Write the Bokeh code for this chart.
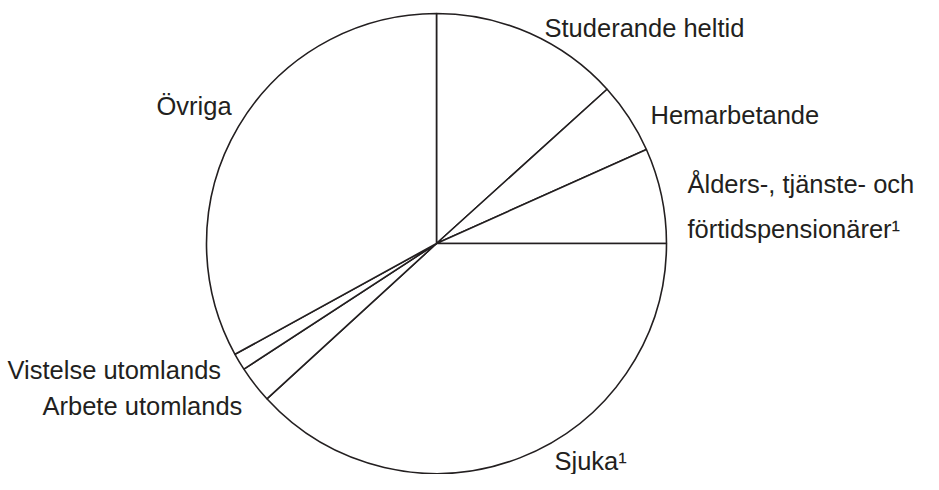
import math
from bokeh.plotting import figure
from bokeh.models import ColumnDataSource
from bokeh.core.properties import value
from bokeh.embed import file_html
from bokeh.resources import INLINE

# --- data (percent shares, clockwise from 12 o'clock) ---
categories = ["Studerande heltid", "Hemarbetande",
              "Ålders-, tjänste- och\nförtidspensionärer¹", "Sjuka¹",
              "Arbete utomlands", "Vistelse utomlands", "Övriga"]
shares = [13.3, 5.0, 6.7, 38.2, 2.6, 1.2, 33.0]

# --- layout (canvas pixels, y up) ---
W, H = 923, 474
cx, cy, r = 436, 231, 230
label_x = [544, 650, 687, 554, 42, 7, 156]
label_y = [447, 360, 268, 14, 69, 105, 369]

total = sum(shares)
starts, ends = [], []
acc = 0.0
for s in shares:
    starts.append(math.pi / 2 - 2 * math.pi * acc / total)
    acc += s
    ends.append(math.pi / 2 - 2 * math.pi * acc / total)

src = ColumnDataSource(dict(cat=categories, share=shares, start=starts, end=ends,
                            x=[cx] * len(shares), y=[cy] * len(shares)))

p = figure(width=W, height=H, x_range=(0, W), y_range=(0, H),
           output_backend="svg", toolbar_location=None,
           min_border=0, outline_line_color=None)
p.axis.visible = False
p.grid.visible = False
p.background_fill_color = "white"

p.wedge(x="x", y="y", radius=r, start_angle="start", end_angle="end",
        direction="clock", fill_color="white", line_color="#231f20",
        line_width=1.6, source=src)

lsrc = ColumnDataSource(dict(x=label_x, y=label_y, t=categories))
p.text(x="x", y="y", text="t", source=lsrc, text_font=value("Liberation Sans"),
       text_font_size="25.5px", text_color="#231f20", text_baseline="alphabetic",
       text_align="left", text_line_height=1.6)

open("out.html", "w").write(file_html(p, INLINE))
